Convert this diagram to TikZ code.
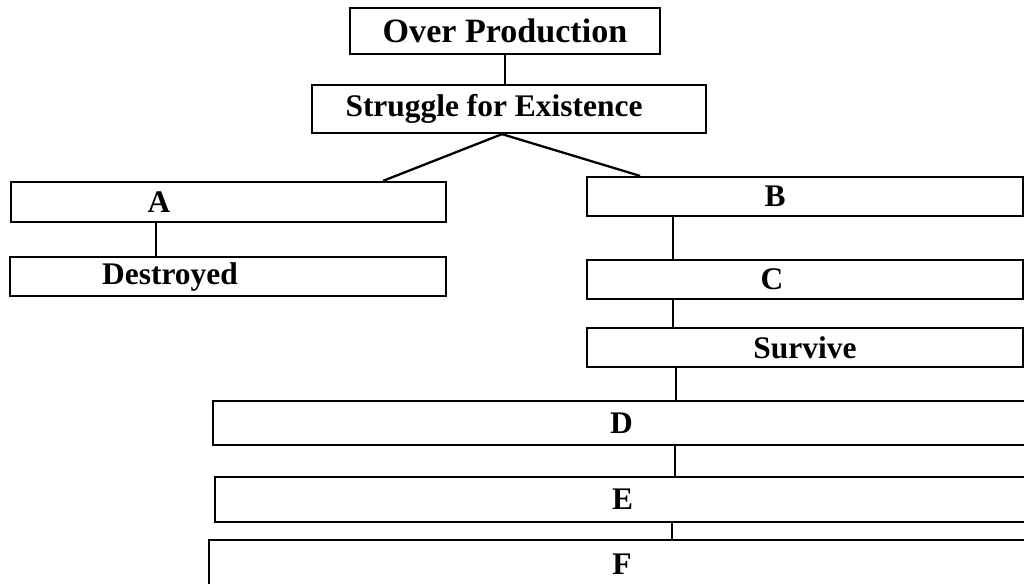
\documentclass[tikz,border=0pt]{standalone}
\usepackage{fontspec}
\setmainfont{Liberation Serif}

\begin{document}
\begin{tikzpicture}[x=0.02cm,y=-0.02cm,line width=1.3pt,
                    box/.style={draw,rectangle,inner sep=0pt,minimum width=8.72cm,minimum height=0.78cm},
                    wide box/.style={box,minimum width=16.34cm,minimum height=0.88cm},
                    every label/.style={inner sep=0pt,font=\bfseries\fontsize{17.9}{20}\selectfont}]
        \useasboundingbox (0,0) rectangle (1024,583);

        \node[box, minimum width=6.2cm, minimum height=0.91cm,
              label={[font=\bfseries\fontsize{19.4}{22}\selectfont]center:Over Production}] (over) at (505,31) {};
        \node[box, minimum width=7.88cm, minimum height=0.96cm,
              label={[xshift=-0.3cm]center:Struggle for Existence}] (strug) at (509,109) {};
        \node[box, minimum width=8.7cm, minimum height=0.8cm, label={[xshift=-1.39cm]center:A}] (a) at (228.5,202) {};
        \node[box, label={[xshift=-1.16cm]center:Destroyed}] (destroyed) at (228,276.5) {};
        \node[box, label={[xshift=-0.6cm]center:B}] (b) at (805,196.5) {};
        \node[box, label={[xshift=-0.66cm]center:C}] (c) at (805,279.5) {};
        \node[box, label={center:Survive}] (survive) at (805,347.5) {};
        \node[wide box, label={center:D}] (d) at (621.5,423) {};
        \node[wide box, minimum width=16.3cm, minimum height=0.9cm, label={center:E}] (e) at (622.5,499.5) {};
        \node[wide box, minimum width=16.52cm, minimum height=1.2cm, label={[yshift=0.12cm]center:F}] (f) at (622,570) {};

        \path
            (over.south) edge (over.south |- strug.north)
            (strug.south -| 502,0) edge (a.north -| 383,0)
            (strug.south -| 502,0) edge (b.north -| 640,0)
            (a.south -| 156,0) edge (destroyed.north -| 156,0)
            (b.south -| 673,0) edge (c.north -| 673,0)
            (c.south -| 673,0) edge (survive.north -| 673,0)
            (survive.south -| 676,0) edge (d.north -| 676,0)
            (d.south -| 675,0) edge (e.north -| 675,0)
            (e.south -| 672,0) edge (f.north -| 672,0);
\end{tikzpicture}
\end{document}
